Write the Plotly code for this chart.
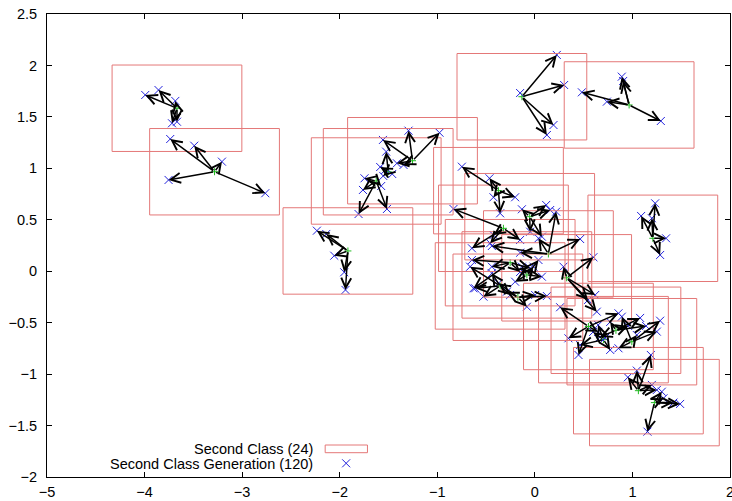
import plotly.graph_objects as go

# ---- data ----
center_x = [-3.668, -3.283, -1.916, -1.254, -1.503, -1.626, -0.133, 0.966, 1.209, 1.061, 1.225,
            -0.373, -0.053, -0.322, 0.139, -0.253, -0.082, -0.356, -0.174, 0.326, 0.549, 0.703, 0.994, 0.831]
center_y = [1.584, 0.967, 0.197, 1.074, 0.967, 0.877, 1.696, 1.616, 0.320, -1.161, -1.277,
            0.783, 0.530, 0.417, 0.168, 0.083, -0.036, -0.143, -0.253, -0.064, -0.537, -0.665, -0.685, -0.574]

gen_x = [-3.993, -3.857, -3.685, -3.719, -3.668,
         -3.737, -3.491, -3.207, -3.754, -2.763,
         -2.234, -2.138, -2.056, -1.954, -1.941,
         -1.557, -1.295, -0.977, -1.346, -1.414,
         -1.524, -1.534, -1.554, -1.462, -1.585,
         -1.746, -1.762, -1.807, -1.516, -1.575,
         0.225, 0.300, 0.191, 0.123, -0.151,
         0.482, 0.738, 0.891, 0.905, 1.291,
         1.233, 1.089, 1.199, 1.345, 1.284,
         0.953, 1.045, 1.189, 1.250, 1.199,
         1.301, 1.318, 1.420, 1.489, 1.154,
         -0.748, -0.465, -0.424, -0.202, -0.356,
         -0.133, 0.116, -0.048, 0.072, 0.157,
         -0.834, -0.151, -0.645, -0.424, -0.458,
         0.218, 0.464, 0.037, -0.151, -0.441,
         -0.645, -0.629, -0.441, -0.048, -0.151,
         0.072, -0.202, 0.037, -0.014, -0.133,
         -0.527, -0.663, -0.612, -0.253, -0.441,
         0.123, -0.082, -0.287, 0.003, -0.373,
         0.293, 0.600, 0.618, 0.635, 0.546,
         0.259, 0.344, 0.447, 0.857, 0.649,
         0.597, 0.720, 0.464, 0.772, 0.649,
         1.284, 1.250, 0.857, 1.045, 0.891,
         1.079, 0.669, 0.956, 1.140, 0.772]
gen_y = [1.713, 1.761, 1.655, 1.438, 1.453,
         1.285, 1.220, 1.065, 0.887, 0.758,
         0.394, 0.362, 0.151, -0.010, -0.182,
         1.276, 1.366, 1.346, 1.033, 1.049,
         1.162, 0.984, 0.926, 0.945, 1.013,
         0.903, 0.790, 0.556, 0.605, 0.828,
         2.102, 1.810, 1.421, 1.324, 1.732,
         1.739, 1.648, 1.891, 1.849, 1.460,
         0.660, 0.537, 0.515, 0.320, 0.158,
         -1.031, -0.966, -0.814, -1.154, -1.105,
         -1.171, -1.235, -1.277, -1.290, -1.559,
         1.016, 0.903, 0.719, 0.719, 0.563,
         0.602, 0.644, 0.384, 0.336, 0.595,
         0.605, 0.304, 0.223, 0.352, 0.272,
         0.579, 0.313, 0.320, 0.180, 0.245,
         0.109, -0.166, 0.044, 0.029, -0.007,
         -0.053, -0.102, 0.109, 0.044, 0.044,
         -0.247, 0.044, -0.166, -0.231, -0.020,
         -0.241, -0.345, -0.199, -0.231, -0.117,
         0.044, 0.136, -0.231, -0.393, -0.279,
         -0.350, -0.652, -0.814, -0.409, -0.590,
         -0.590, -0.648, -0.717, -0.765, -0.523,
         -0.481, -0.587, -0.749, -0.620, -0.442,
         -0.454, -0.639, -0.532, -0.532, -0.493]
per_center = 5
box_w = 1.33
box_h = 0.84

x_ticks = [-5, -4, -3, -2, -1, 0, 1, 2]
y_ticks = [-2, -1.5, -1, -0.5, 0, 0.5, 1, 1.5, 2, 2.5]
legend_box = "Second Class (24)"
legend_gen = "Second Class Generation (120)"

BOX_COLOR = "rgb(228,120,120)"
FONT = dict(family="Liberation Sans, Arial, Helvetica, sans-serif", size=14.5, color="black")

fig = go.Figure()

shapes = []
for cx, cy in zip(center_x, center_y):
    shapes.append(dict(type="rect", xref="x", yref="y",
                       x0=cx - box_w / 2, x1=cx + box_w / 2,
                       y0=cy - box_h / 2, y1=cy + box_h / 2,
                       line=dict(color=BOX_COLOR, width=1), layer="above"))

# center markers
fig.add_trace(go.Scatter(x=center_x, y=center_y, mode="markers",
                         marker=dict(symbol="cross-thin", size=5, line=dict(color="#22bb22", width=1)),
                         showlegend=False, hoverinfo="skip"))
# generated points
fig.add_trace(go.Scatter(x=gen_x, y=gen_y, mode="markers",
                         marker=dict(symbol="x-thin", size=8, line=dict(color="#2222dd", width=1)),
                         showlegend=False, hoverinfo="skip"))

annotations = []
for i, (gx, gy) in enumerate(zip(gen_x, gen_y)):
    c = i // per_center
    annotations.append(dict(x=gx, y=gy, ax=center_x[c], ay=center_y[c],
                            xref="x", yref="y", axref="x", ayref="y",
                            text="", showarrow=True, arrowhead=5, arrowsize=1.3,
                            arrowwidth=1.5, arrowcolor="black", standoff=0, startstandoff=0))

# last x tick label, which sits half outside the page edge in the reference
annotations.append(dict(x=x_ticks[-1], y=0, xref="x", yref="paper", text=str(x_ticks[-1]),
                        showarrow=False, xanchor="center", yanchor="middle", yshift=-14.5, font=FONT))

# legend (gnuplot style, bottom-left)
annotations.append(dict(x=0.3927, y=0.0598, xref="paper", yref="paper", text=legend_box,
                        showarrow=False, xanchor="right", yanchor="middle", font=FONT))
annotations.append(dict(x=0.3927, y=0.0281, xref="paper", yref="paper", text=legend_gen,
                        showarrow=False, xanchor="right", yanchor="middle", font=FONT))
shapes.append(dict(type="rect", xref="paper", yref="paper", x0=0.4073, x1=0.4692, y0=0.0525, y1=0.0691,
                   line=dict(color=BOX_COLOR, width=1)))
fig.add_trace(go.Scatter(x=[0.438], y=[0.0296], xaxis="x2", yaxis="y2", mode="markers",
                         marker=dict(symbol="x-thin", size=8, line=dict(color="#2222dd", width=1)),
                         showlegend=False, hoverinfo="skip"))

axis_common = dict(showgrid=False, zeroline=False, showline=True, linecolor="black", linewidth=1,
                   mirror="ticks", ticks="inside", ticklen=5, tickcolor="black", tickwidth=1,
                   tickfont=FONT)
fig.update_layout(
    width=732, height=501,
    margin=dict(l=47, r=2, t=14, b=24),
    plot_bgcolor="white", paper_bgcolor="white",
    xaxis=dict(range=[-5, 2], tickvals=x_ticks, ticklabelstandoff=2, **axis_common),
    yaxis=dict(range=[-2, 2.5], tickvals=y_ticks, ticklabelstandoff=6, **axis_common),
    xaxis2=dict(overlaying="x", range=[0, 1], visible=False),
    yaxis2=dict(overlaying="y", range=[0, 1], visible=False),
    shapes=shapes, annotations=annotations, showlegend=False,
)
fig.write_html("out.html", config={"displayModeBar": False},
               post_script="document.body.style.margin='0px';document.body.style.overflow='hidden';")
